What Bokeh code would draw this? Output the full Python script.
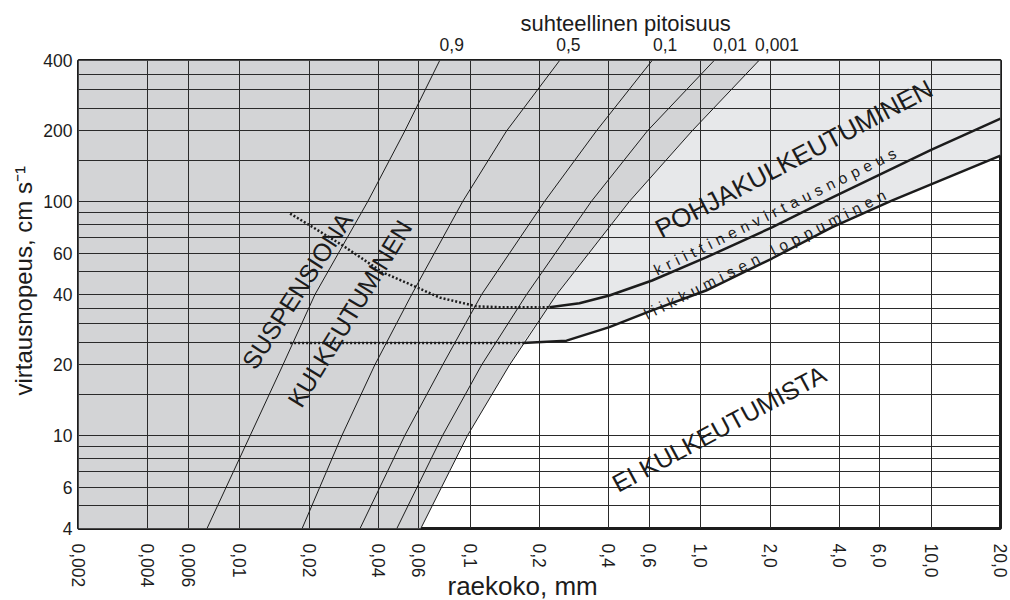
import math
from bokeh.plotting import figure
from bokeh.models import FixedTicker, LogAxis, Range1d, Title
from bokeh.core.properties import value
from bokeh.embed import file_html
from bokeh.resources import INLINE

# ---------------- data ----------------
grain_ticks = [0.002, 0.004, 0.006, 0.01, 0.02, 0.04, 0.06, 0.1, 0.2, 0.4, 0.6,
               1.0, 2.0, 4.0, 6.0, 10.0, 20.0]
grain_tick_labels = ["0,002", "0,004", "0,006", "0,01", "0,02", "0,04", "0,06", "0,1",
                     "0,2", "0,4", "0,6", "1,0", "2,0", "4,0", "6,0", "10,0", "20,0"]
velocity_ticks = [4, 6, 10, 20, 40, 60, 100, 200, 400]
velocity_tick_labels = ["4", "6", "10", "20", "40", "60", "100", "200", "400"]
velocity_grid = [4, 5, 6, 7, 8, 9, 10, 15, 20, 25, 30, 35, 40, 50, 60, 70, 80, 90,
                 100, 150, 200, 250, 300, 350, 400]

# relative concentration lines (grain size at given velocities)
conc_labels = ["0,9", "0,5", "0,1", "0,01", "0,001"]
conc_velocity = [4, 10, 20, 40, 100, 200, 400]
conc_09_grain = [0.00722, 0.01112, 0.01541, 0.02123, 0.0360, 0.0521, 0.0738]
conc_05_grain = [0.01867, 0.0278, 0.0386, 0.0558, 0.0929, 0.1439, 0.2445]
conc_01_grain = [0.0333, 0.0521, 0.0760, 0.1122, 0.2104, 0.353, 0.616]
conc_001_grain = [0.0481, 0.0760, 0.1122, 0.1758, 0.3357, 0.5875, 1.145]
conc_0001_grain = [0.0611, 0.0975, 0.1483, 0.2373, 0.491, 0.918, 1.791]

# critical velocity (kriittinen virtausnopeus)
crit_dotted_grain = [0.01656, 0.0202, 0.0280, 0.0418, 0.0588, 0.0738, 0.1067, 0.1343, 0.2208]
crit_dotted_vel = [88.7, 78.9, 64.8, 49.7, 42.9, 38.8, 35.6, 35.3, 35.3]
crit_solid_grain = [0.2208, 0.298, 0.402, 0.616, 1.056, 2.04, 3.49, 10.0, 20.0]
crit_solid_vel = [35.3, 36.7, 39.6, 45.9, 57.6, 77.4, 100.8, 166.0, 226.0]

# end of movement (liikkumisen loppuminen)
stop_dotted_grain = [0.01656, 0.1686]
stop_dotted_vel = [24.8, 24.8]
stop_solid_grain = [0.1686, 0.262, 0.402, 0.616, 1.056, 2.04, 3.71, 6.75, 20.0]
stop_solid_vel = [24.8, 25.4, 29.0, 34.2, 41.6, 57.0, 77.5, 100.8, 157.0]

# ---------------- style / layout ----------------
FONT = "Liberation Sans"
INK = "#1c1c1c"
DARK = "#d3d4d6"
LIGHT = "#e7e8ea"
X_MIN, X_MAX = 0.002, 20.0
Y_MIN, Y_MAX = 4, 400
TICK_SIZE = "17.5px"

p = figure(width=1010, height=600, x_axis_type="log", y_axis_type="log",
           x_range=Range1d(X_MIN, X_MAX), y_range=Range1d(Y_MIN, Y_MAX),
           output_backend="svg", toolbar_location=None,
           min_border_left=78, min_border_right=10, min_border_top=60, min_border_bottom=72,
           background_fill_color="white", border_fill_color="white")
p.outline_line_color = INK
p.outline_line_width = 3

# top caption as the figure title
p.title.text = "suhteellinen pitoisuus"
p.title.align = "left"
p.title.offset = 442
p.title.standoff = -2
p.title.text_font = FONT
p.title.text_font_size = "22px"
p.title.text_font_style = "normal"
p.title.text_color = INK

# shaded zones
dark_x = [X_MIN] + conc_0001_grain + [X_MIN]
dark_y = [Y_MIN] + conc_velocity + [Y_MAX]
p.patch(dark_x, dark_y, fill_color=DARK, line_color=None, level="image")

upper = [(d, v) for d, v in zip(conc_0001_grain, conc_velocity) if v >= 40][::-1]
light_x = stop_solid_grain + [X_MAX] + [d for d, v in upper]
light_y = stop_solid_vel + [Y_MAX] + [v for d, v in upper]
p.patch(light_x, light_y, fill_color=LIGHT, line_color=None, level="image")

# grid
p.xgrid.ticker = FixedTicker(ticks=grain_ticks)
p.ygrid.ticker = FixedTicker(ticks=velocity_grid)
p.grid.grid_line_color = "#2a2a2a"
p.grid.grid_line_alpha = 1
p.grid.grid_line_width = 1


def style_axis(ax):
    ax.axis_line_color = None
    ax.major_tick_line_color = None
    ax.minor_tick_line_color = None
    ax.major_tick_out = 0
    ax.major_tick_in = 0
    ax.minor_tick_out = 0
    ax.minor_tick_in = 0
    ax.major_label_text_font = FONT
    ax.major_label_text_font_size = TICK_SIZE
    ax.major_label_text_color = INK


# main axes
xa = p.xaxis[0]
xa.ticker = FixedTicker(ticks=grain_ticks)
xa.major_label_overrides = {float(t): l for t, l in zip(grain_ticks, grain_tick_labels)}
xa.major_label_orientation = "vertical"
xa.major_label_standoff = 15
style_axis(xa)
ya = p.yaxis[0]
ya.ticker = FixedTicker(ticks=velocity_ticks)
ya.major_label_overrides = {float(t): l for t, l in zip(velocity_ticks, velocity_tick_labels)}
ya.major_label_standoff = 6
style_axis(ya)

# top axis: relative concentration labels
top_label_x = [0.0832, 0.267, 0.702, 1.342, 2.145]
ta = LogAxis(ticker=FixedTicker(ticks=top_label_x),
             major_label_overrides={float(t): l for t, l in zip(top_label_x, conc_labels)},
             major_label_standoff=10)
style_axis(ta)
p.add_layout(ta, "above")

# axis captions as side titles
p.add_layout(Title(text="raekoko, mm", align="left", offset=369, standoff=-39,
                   vertical_align="top",
                   text_font=FONT, text_font_size="26px", text_font_style="normal",
                   text_color=INK), "below")
p.add_layout(Title(text="virtausnopeus, cm s\u207b\u00b9", align="left", offset=133, standoff=8,
                   text_font=FONT, text_font_size="24px", text_font_style="normal",
                   text_color=INK), "left")

# concentration lines
for g in (conc_09_grain, conc_05_grain, conc_01_grain, conc_001_grain, conc_0001_grain):
    p.line(g, conc_velocity, line_color=INK, line_width=1)

# critical curves
p.line(crit_dotted_grain, crit_dotted_vel, line_color=INK, line_width=2.5, line_dash="2 2")
p.line(crit_solid_grain, crit_solid_vel, line_color=INK, line_width=2.5)
p.line(stop_dotted_grain, stop_dotted_vel, line_color=INK, line_width=2.5, line_dash="2 2")
p.line(stop_solid_grain, stop_solid_vel, line_color=INK, line_width=2.5)

# zone labels
deg = math.pi / 180
p.text(x=[0.01775, 0.0300, 1.202], y=[41.6, 33.2, 10.7],
       text=["SUSPENSIONA", "KULKEUTUMINEN", "EI KULKEUTUMISTA"],
       angle=[57 * deg, 58.5 * deg, 28.3 * deg],
       text_font=value(FONT), text_font_size="25px", text_color=INK,
       text_align="center", text_baseline="middle")
p.text(x=[2.54], y=[152.4], text=["POHJAKULKEUTUMINEN"], angle=[27.7 * deg],
       text_font=value(FONT), text_font_size="26px", text_color=INK,
       text_align="center", text_baseline="middle")
sp = "\u2004"
p.text(x=[2.10, 1.90], y=[90.5, 59.3],
       text=[sp.join("kriittinenvirtausnopeus"), sp.join("liikkumisen loppuminen")],
       angle=[26.3 * deg, 26.8 * deg],
       text_font=value(FONT), text_font_size="15.5px", text_color=INK,
       text_align="center", text_baseline="middle")

open("out.html", "w").write(file_html(p, INLINE))
